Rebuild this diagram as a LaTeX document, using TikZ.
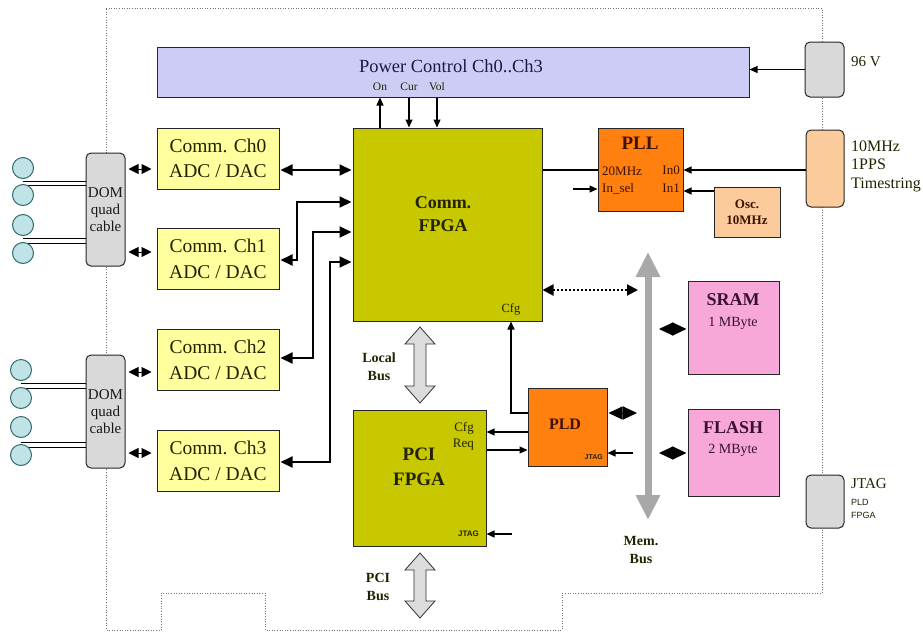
\documentclass[tikz,border=0pt]{standalone}
\usepackage{fontspec}
\setmainfont{Liberation Serif}
\newfontfamily\sansf{Liberation Sans}
\usetikzlibrary{arrows.meta,calc}
\definecolor{pwrc}{HTML}{CCCCF5}
\definecolor{fpgac}{HTML}{C8C800}
\definecolor{chc}{HTML}{FFFF9E}
\definecolor{orc}{HTML}{FF7F0F}
\definecolor{peachc}{HTML}{FBCB9B}
\definecolor{pinkc}{HTML}{F7A8D8}
\definecolor{grayc}{HTML}{D9D9D9}
\definecolor{circc}{HTML}{BFE3E6}
\definecolor{circd}{HTML}{336B6B}
\definecolor{busc}{HTML}{A8A8A8}
\definecolor{hbusc}{HTML}{DCDCDC}
\definecolor{navyc}{HTML}{1A1A4A}
\definecolor{brownc}{HTML}{3D1200}
\definecolor{plumc}{HTML}{3A1030}
\definecolor{darkc}{HTML}{222200}
\newcommand\fs[1]{\fontsize{#1}{#1}\selectfont}
\newcommand\hbus[3]{%
  \draw[hbus] (#1,#2) -- (#1+15,#2+17) -- (#1+6,#2+17) -- (#1+6,#3-17) -- (#1+15,#3-17)
    -- (#1,#3) -- (#1-15,#3-17) -- (#1-6,#3-17) -- (#1-6,#2+17) -- (#1-15,#2+17) -- cycle;}
\begin{document}
\begin{tikzpicture}[x=1pt,y=-1pt,
  box/.style={draw=black!85, line width=1pt, inner sep=0pt, align=center},
  rbox/.style={box, rounded corners=5pt, fill=grayc},
  circ/.style={circle, draw=circd, line width=1pt, fill=circc, minimum size=21pt, inner sep=0pt},
  arr/.style={line width=1.2pt, -{Triangle[width=7pt,length=8pt]}},
  charr/.style={line width=2pt, {Triangle[width=11pt,length=12pt]}-{Triangle[width=11pt,length=12pt]}},
  fatarr/.style={line width=1pt, {Triangle[width=13pt,length=14pt]}-{Triangle[width=13pt,length=14pt]}},
  smarr/.style={line width=1pt, {Triangle[width=10pt,length=10pt]}-{Triangle[width=10pt,length=10pt]}},
  cable/.style={line width=0.8pt},
  hbus/.style={draw=black!80, line width=0.8pt, fill=hbusc},
  outline/.style={draw=black!55, line width=0.6pt, dotted},
  lbl/.style={inner sep=0pt, text=darkc}
]
\useasboundingbox (0,0) rectangle (923,632);
% board outline
\draw[outline] (106,8) -- (822,8) -- (822,593) -- (562,593) -- (562,630) -- (265,630)
  -- (265,593) -- (161,593) -- (161,630) -- (106,630) -- cycle;

% coordinates for levels
\coordinate (xOn) at (380,0);
\coordinate (xCur) at (409,0);
\coordinate (xVol) at (437,0);
\coordinate (yC0) at (0,170);
\coordinate (yC1) at (0,260);
\coordinate (yC2) at (0,358);
\coordinate (yC3) at (0,462);
\coordinate (yF1) at (0,202);
\coordinate (yF2) at (0,232);
\coordinate (yF3) at (0,262);
\coordinate (xV1) at (297,0);
\coordinate (xV2) at (313,0);
\coordinate (xV3) at (330,0);
\coordinate (yIn0) at (0,170);
\coordinate (yIn1) at (0,191);
\coordinate (yIs) at (0,189);
\coordinate (yDot) at (0,290);
\coordinate (yPldC) at (0,413);
\coordinate (xCfg) at (511,0);
\coordinate (yCfg) at (0,432);
\coordinate (yReq) at (0,450);
\coordinate (yJt) at (0,534);
\coordinate (yPj) at (0,453);
\coordinate (ySr) at (0,329);
\coordinate (yFl) at (0,453);
\coordinate (busL) at (638,0);
\coordinate (busR) at (658,0);
\coordinate (busT) at (648,252);
\coordinate (busB) at (648,520);
\coordinate (isel) at (573,189);
\coordinate (pjt) at (512,534);
\coordinate (ljt) at (633,453);

% boxes
\node[box, fill=pwrc, minimum width=592pt, minimum height=50pt] (pwr) at (453,72) {};
\node[font=\fs{18.5}, text=navyc, inner sep=0pt] at (451,66) {Power Control Ch0..Ch3};
\node[font=\fs{11.5}, lbl] at (380,87) {On};
\node[font=\fs{11.5}, lbl] at (409,87) {Cur};
\node[font=\fs{11.5}, lbl] at (437,87) {Vol};

\node[box, fill=fpgac, minimum width=189pt, minimum height=193pt] (cfpga) at (447.5,224.5) {};
\node[font=\fs{18}\bfseries, lbl, align=center] at (443,214) {Comm.\\[5pt]FPGA};
\node[font=\fs{12.5}, lbl] at (511,309) {Cfg};

\node[box, fill=fpgac, minimum width=133pt, minimum height=136pt] (pfpga) at (419.5,478) {};
\node[font=\fs{19}\bfseries, lbl, align=center] at (419,467) {PCI\\[6pt]FPGA};
\node[font=\fs{13}, lbl, anchor=east] at (474,428) {Cfg};
\node[font=\fs{13}, lbl, anchor=east] at (474,445) {Req};
\node[font=\sansf\bfseries\fs{8}, lbl, anchor=east] at (479,534) {JTAG};

\foreach \n/\y/\t in {ch0/158.5/Ch0, ch1/259/Ch1, ch2/360/Ch2, ch3/461/Ch3}{
  \node[box, fill=chc, minimum width=122pt, minimum height=61pt, font=\fs{19.5}, text=darkc] (\n) at (218,\y) {Comm. \t\\[6pt]ADC / DAC};
}

\node[box, fill=orc, minimum width=85pt, minimum height=83pt] (pll) at (640.5,169.5) {};
\node[font=\fs{19}\bfseries, text=brownc, inner sep=0pt] at (640,143) {PLL};
\node[font=\fs{13}, text=brownc, inner sep=0pt, anchor=west] at (602,171) {20MHz};
\node[font=\fs{13}, text=brownc, inner sep=0pt, anchor=west] at (602,189) {In\_sel};
\node[font=\fs{13}, text=brownc, inner sep=0pt, anchor=east] at (680,170) {In0};
\node[font=\fs{13}, text=brownc, inner sep=0pt, anchor=east] at (680,188) {In1};

\node[box, fill=peachc, minimum width=66pt, minimum height=50pt, font=\fs{13}\bfseries, text=brownc] (osc) at (747,212) {Osc.\\[3pt]10MHz};

\node[box, fill=orc, minimum width=79pt, minimum height=78pt] (pld) at (567.5,427) {};
\node[font=\fs{16}\bfseries, text=brownc, inner sep=0pt] at (565,424) {PLD};
\node[font=\sansf\bfseries\fs{7}, lbl, anchor=east] at (603,457) {JTAG};

\node[box, fill=pinkc, minimum width=91pt, minimum height=93pt] (sram) at (733.5,327.5) {};
\node[font=\fs{18}\bfseries, text=plumc, inner sep=0pt] at (733,300) {SRAM};
\node[font=\fs{14}, text=plumc, inner sep=0pt] at (733,323) {1 MByte};
\node[box, fill=pinkc, minimum width=91pt, minimum height=87pt] (flash) at (733.5,452.5) {};
\node[font=\fs{18}\bfseries, text=plumc, inner sep=0pt] at (733,428) {FLASH};
\node[font=\fs{14}, text=plumc, inner sep=0pt] at (733,450) {2 MByte};

% connectors on right side
\node[rbox, minimum width=39pt, minimum height=55pt] (v96) at (824.5,69.5) {};
\node[font=\fs{15}, lbl, anchor=west] at (851,62) {96 V};
\node[rbox, fill=peachc, minimum width=38pt, minimum height=77pt] (clk) at (825,168.5) {};
\node[font=\fs{16}, lbl, anchor=west, align=left] at (851,166) {10MHz\\[2.5pt]1PPS\\[2.5pt]Timestring};
\node[rbox, minimum width=38pt, minimum height=53pt] (jtg) at (825,501.5) {};
\node[font=\fs{15}, lbl, anchor=west] at (851,484) {JTAG};
\node[font=\sansf\fs{9}, lbl, anchor=west, align=left] at (851,509) {PLD\\[4pt]FPGA};

% DOM cables and circles
\node[rbox, minimum width=39pt, minimum height=113pt, font=\fs{15}, text=black!90] (doma) at (105.5,209.5) {DOM\\[2pt]quad\\[2pt]cable};
\node[rbox, minimum width=39pt, minimum height=113pt, font=\fs{15}, text=black!90] (domb) at (105.5,411.5) {DOM\\[2pt]quad\\[2pt]cable};
\foreach \n/\x/\y in {ca1/23/168, ca2/23/195, ca3/23/225, ca4/23/253, cb1/21/370, cb2/21/398, cb3/21/427, cb4/21/455}{
  \coordinate (\n) at (\x,\y);
}
\foreach \c/\d/\ya/\yb in {ca1/doma/181/185, ca3/doma/238/243, cb1/domb/383/388, cb3/domb/442/447}{
  \draw[cable] (\c |- 0,\ya) -- (\d.west |- 0,\ya);
  \draw[cable] (\c |- 0,\yb) -- (\d.west |- 0,\yb);
}
\foreach \n in {ca1,ca2,ca3,ca4,cb1,cb2,cb3,cb4}{
  \node[circ] (\n c) at (\n) {};
}
\draw[smarr, shorten <=3pt, shorten >=5pt] (doma.east |- 0,169) -- (ch0.west |- 0,169);
\draw[smarr, shorten <=3pt, shorten >=5pt] (doma.east |- 0,252) -- (ch1.west |- 0,252);
\draw[smarr, shorten <=3pt, shorten >=5pt] (domb.east |- 0,372) -- (ch2.west |- 0,372);
\draw[smarr, shorten <=3pt, shorten >=5pt] (domb.east |- 0,453) -- (ch3.west |- 0,453);

% power control arrows
\draw[arr] (cfpga.north -| xOn) -- (pwr.south -| xOn);
\draw[arr] (pwr.south -| xCur) -- (cfpga.north -| xCur);
\draw[arr] (pwr.south -| xVol) -- (cfpga.north -| xVol);
\draw[arr] (v96.west) -- (pwr.east |- v96.west);

% channel arrows
\draw[charr, shorten <=1pt, shorten >=1pt] (ch0.east |- yC0) -- (cfpga.west |- yC0);
\draw[charr, shorten <=1pt, shorten >=1pt] (ch1.east |- yC1) -| (xV1 |- yF1) -- (cfpga.west |- yF1);
\draw[charr, shorten <=1pt, shorten >=1pt] (ch2.east |- yC2) -| (xV2 |- yF2) -- (cfpga.west |- yF2);
\draw[charr, shorten <=1pt, shorten >=1pt] (ch3.east |- yC3) -| (xV3 |- yF3) -- (cfpga.west |- yF3);

% PLL
\draw[line width=1.2pt] (cfpga.east |- yIn0) -- (pll.west |- yIn0);
\draw[arr] (isel) -- (pll.west |- isel);
\draw[arr] (clk.west |- yIn0) -- (pll.east |- yIn0);
\draw[arr] (osc.west |- yIn1) -- (pll.east |- yIn1);

% buses
\hbus{420}{327}{403}
\node[font=\fs{14}\bfseries, lbl, align=center] at (379,367) {Local\\[4pt]Bus};
\hbus{420}{553}{618}
\node[font=\fs{14}\bfseries, lbl, align=center] at (378,587) {PCI\\[4pt]Bus};
\draw[busc, line width=7pt, {Triangle[width=23pt,length=25pt]}-{Triangle[width=23pt,length=25pt]}] (busT) -- (busB);
\node[font=\fs{14}\bfseries, lbl, align=center] at (641,550) {Mem.\\[4pt]Bus};

% memory connections
\draw[line width=2pt, dotted, {Triangle[width=11pt,length=11pt]}-{Triangle[width=11pt,length=11pt]}] (cfpga.east |- yDot) -- (busL |- yDot);
\draw[fatarr, shorten <=1pt, shorten >=1pt] (busR |- ySr) -- (sram.west |- ySr);
\draw[fatarr, shorten <=1pt, shorten >=1pt] (busR |- yFl) -- (flash.west |- yFl);
\draw[fatarr, shorten <=1pt, shorten >=1pt] (pld.east |- yPldC) -- (busL |- yPldC);
\draw[arr] (ljt) -- (pld.east |- ljt);

% PLD links
\draw[arr] (pld.west |- yPldC) -| (cfpga.south -| xCfg);
\draw[arr] (pld.west |- yCfg) -- (pfpga.east |- yCfg);
\draw[arr] (pfpga.east |- yReq) -- (pld.west |- yReq);
\draw[arr] (pjt) -- (pfpga.east |- pjt);
\end{tikzpicture}
\end{document}
